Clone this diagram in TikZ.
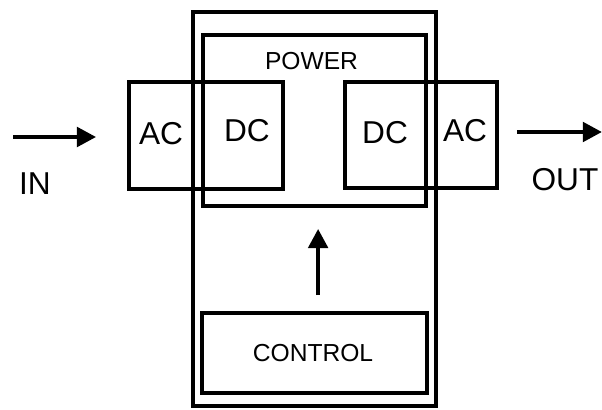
\documentclass[tikz,border=0pt]{standalone}
\usepackage{fontspec}
\setmainfont{Liberation Sans}
\usetikzlibrary{arrows.meta,positioning}
\tikzset{
  unitbox/.style={draw=black,line width=2.6pt,inner sep=0pt,fill=none},
  flowarrow/.style={-{Triangle[length=0.48cm,width=0.48cm]},
    line width=3.2pt,draw=black},
  biglabel/.style={font=\fontsize{22.5}{24}\selectfont,inner sep=0pt},
  smalllabel/.style={font=\fontsize{17.5}{19}\selectfont,inner sep=0pt},
}
\begin{document}
\begin{tikzpicture}[x=0.025cm,y=-0.025cm]
  \useasboundingbox (0,0) rectangle (602,409);
  % housing and power stage
  \node[unitbox,minimum width=6.075cm,minimum height=9.85cm] (housing) at (314.5,209) {};
  \node[unitbox,minimum width=5.575cm,minimum height=4.275cm] (power) at (314.5,120.5) {};
  \node[unitbox,minimum width=3.85cm,minimum height=2.675cm] (convL) at (206,135.5) {};
  \node[unitbox,minimum width=3.8cm,minimum height=2.65cm] (convR) at (421,135) {};
  \node[unitbox,minimum width=5.625cm,minimum height=2.0cm] (control) at (314.5,353) {};
  % labels
  \node[smalllabel] (powerlbl) at (311.5,61.5) {POWER};
  \node[smalllabel] (controllbl) at (313,353) {CONTROL};
  \node[biglabel] (acL) at (161,134) {AC};
  \node[biglabel] (dcL) at (247,131) {DC};
  \node[biglabel] (dcR) at (385,133) {DC};
  \node[biglabel] (acR) at (465,131) {AC};
  \node[biglabel] (inlbl) at (35,184) {IN};
  \node[biglabel] (outlbl) at (565,180) {OUT};
  % connectors
  \coordinate (in) at (13,137);
  \coordinate (out) at (602,132);
  \draw[flowarrow,shorten >=0.775cm] (in) -- (in -| convL.west);
  \draw[flowarrow,shorten <=0.45cm] (convR.east |- out) -- (out);
  \draw[flowarrow,shorten <=0.4cm,shorten >=0.525cm]
    ([xshift=0.09cm]control.north) -- ([xshift=0.09cm]power.south);
\end{tikzpicture}
\end{document}
